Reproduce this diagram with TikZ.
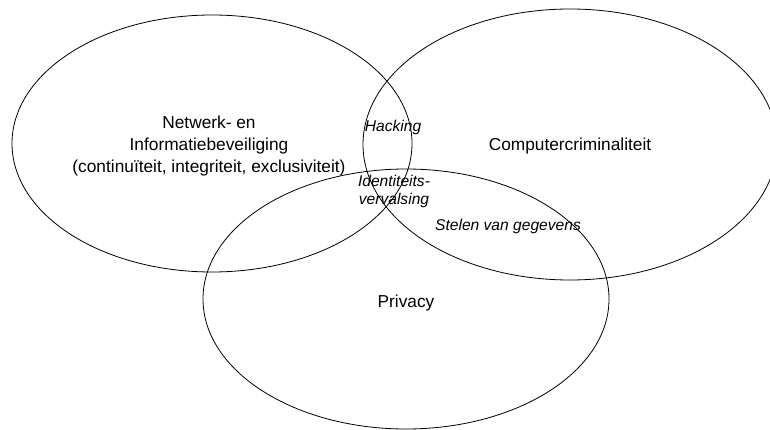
\documentclass[tikz,border=0pt]{standalone}
\usepackage{fontspec}
\setmainfont{Liberation Sans}
\usetikzlibrary{shapes.geometric}
\tikzset{
  setring/.style={draw, ellipse, line width=0.8pt, inner sep=0pt, outer sep=0pt},
  mainlabel/.style={align=center, inner sep=0pt, font=\fontsize{17.3}{22}\selectfont},
  sublabel/.style={align=center, inner sep=0pt, font=\fontsize{15.6}{17.5}\selectfont\itshape}
}
\begin{document}
\begin{tikzpicture}[x=1pt, y=-1pt]
  \useasboundingbox (0,0) rectangle (770,430);
  \node[setring, minimum width=400pt, minimum height=257pt] (net) at (212,143.5) {};
  \node[setring, minimum width=414pt, minimum height=271pt] (crim) at (570,144.5) {};
  \node[setring, minimum width=406pt, minimum height=260pt] (priv) at (406,299) {};

  \node[mainlabel] (netl) at (209,146) {Netwerk- en\\Informatiebeveiliging\\(continuïteit, integriteit, exclusiviteit)};
  \node[mainlabel] (criml) at (570,146) {Computercriminaliteit};
  \node[mainlabel] (privl) at (406,303) {Privacy};

  \node[sublabel] (hack) at (393,127) {Hacking};
  \node[sublabel] (ident) at (394,191.5) {Identiteits-\\vervalsing};
  \node[sublabel] (steal) at (508,226) {Stelen van gegevens};
\end{tikzpicture}
\end{document}
